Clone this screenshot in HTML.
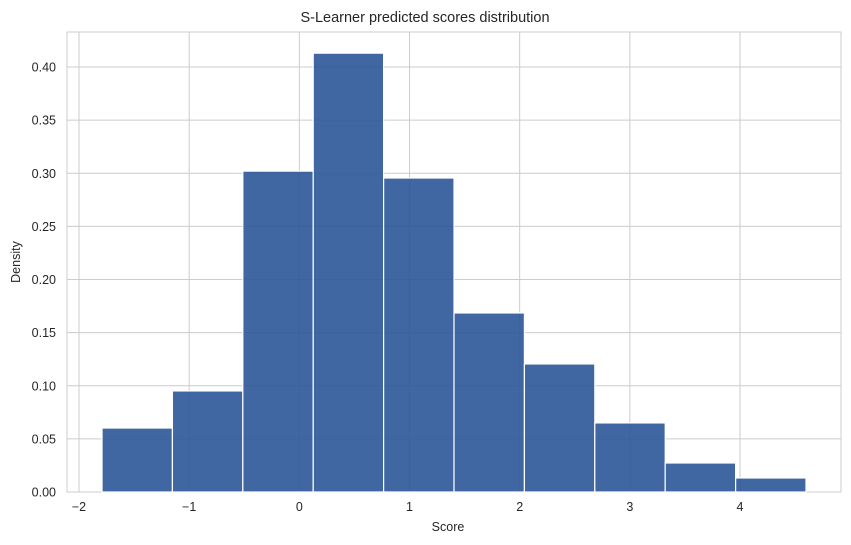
<!DOCTYPE html>
<html><head><meta charset="utf-8"><style>
html,body{margin:0;padding:0;background:#fff;}
svg{display:block;font-family:"Liberation Sans",Arial,sans-serif;}
</style></head><body>
<svg id="chart" width="851" height="545">
<rect x="67" y="32" width="774" height="460" fill="#fff" stroke="#cccccc" stroke-width="1"/>
<g id="grid"></g>
<g id="bars"></g>
<g id="ticks"></g>
<text x="425" y="22" text-anchor="middle" font-size="14.5" fill="#262626">S-Learner predicted scores distribution</text>
<text x="448" y="531" text-anchor="middle" font-size="12.5" fill="#262626">Score</text>
<text x="20" y="262" text-anchor="middle" font-size="12.5" fill="#262626" transform="rotate(-90 20 262)">Density</text>
</svg>
<script>
const binStart = -1.791;
const binWidth = 0.639;
const densities = [0.0602, 0.0951, 0.302, 0.413, 0.2955, 0.1685, 0.1205, 0.065, 0.0273, 0.0132];
const xTicks = [-2, -1, 0, 1, 2, 3, 4];
const xTickLabels = ["\u22122", "\u22121", "0", "1", "2", "3", "4"];
const yTicks = [0, 0.05, 0.10, 0.15, 0.20, 0.25, 0.30, 0.35, 0.40];
const yTickLabels = ["0.00","0.05","0.10","0.15","0.20","0.25","0.30","0.35","0.40"];

const NS = "http://www.w3.org/2000/svg";
const xs = v => 79 + (v + 2) * 110.17;
const ys = v => 492 - v * 1062.5;
const grid = document.getElementById('grid');
const bars = document.getElementById('bars');
const ticks = document.getElementById('ticks');
function mk(tag, attrs, parent){const e=document.createElementNS(NS,tag);for(const k in attrs)e.setAttribute(k,attrs[k]);parent.appendChild(e);return e;}

xTicks.forEach((t,i)=>{
  const l = mk('line',{x1:xs(t),x2:xs(t),y1:32,y2:492,stroke:'#cccccc','stroke-width':1},grid);
  
  
  const tx = mk('text',{x:xs(t),y:511,'text-anchor':'middle','font-size':12.5,fill:'#262626'},ticks);
  tx.textContent = xTickLabels[i];
  
  
});
yTicks.forEach((t,i)=>{
  const l = mk('line',{x1:67,x2:841,y1:ys(t),y2:ys(t),stroke:'#cccccc','stroke-width':1},grid);
  
  
  const tx = mk('text',{x:56,y:ys(t)+4.5,'text-anchor':'end','font-size':12.5,fill:'#262626'},ticks);
  tx.textContent = yTickLabels[i];
  
  
});
densities.forEach((d,i)=>{
  const x0 = xs(binStart + i*binWidth), x1 = xs(binStart + (i+1)*binWidth);
  const r = mk('rect',{x:x0,y:ys(d),width:x1-x0,height:ys(0)-ys(d),fill:'#2b5797','fill-opacity':0.9,stroke:'#ffffff','stroke-width':1.2},bars);
  
  
});
</script>
</body></html>
